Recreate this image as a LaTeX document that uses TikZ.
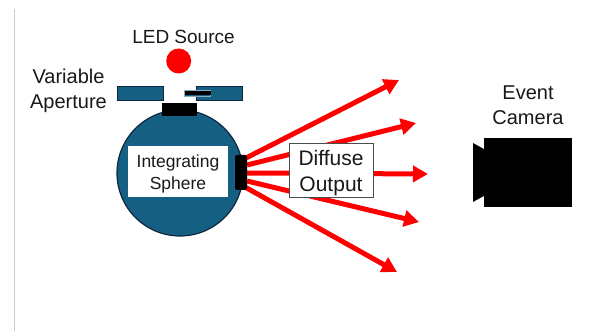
\documentclass[tikz,border=0pt]{standalone}
\usepackage{fontspec}
\setmainfont{Liberation Sans}
\usetikzlibrary{arrows.meta}
\definecolor{sphereblue}{HTML}{156082}
\definecolor{edgeblue}{HTML}{0E2841}
\tikzset{
  label text/.style={font=\fontsize{20}{24.5}\selectfont,align=center,inner sep=0pt,text=black!90},
  blackpart/.style={fill=black,draw=none,inner sep=0pt,rectangle},
  plate/.style={fill=sphereblue,draw=edgeblue,line width=0.8pt,rectangle,inner sep=0pt},
  ray/.style={draw=red,line width=5pt,-{Triangle[length=15pt,width=16pt]}},
  whitebox/.style={fill=white,draw=black!70,line width=0.7pt,rectangle,inner sep=0pt,align=center}
}
\begin{document}
\begin{tikzpicture}[x=1pt,y=-1pt]
\useasboundingbox (0,0) rectangle (590,331);
\fill[white] (0,0) rectangle (590,331);
\coordinate (railtop) at (14.5,9);
\coordinate (railbot) at (14.5,331);
\draw[black!20,line width=1pt] (railtop) -- (railbot);
% sphere
\node[circle,fill=sphereblue,draw=edgeblue,line width=1.2pt,minimum size=126pt,inner sep=0pt] (sphere) at (180,173) {};
% rays
\coordinate (s1) at (246,158);
\coordinate (s2) at (247,165);
\coordinate (s3) at (247,173);
\coordinate (s4) at (247,181);
\coordinate (s5) at (245,187);
\coordinate (e1) at (399,80);
\coordinate (e2) at (416,123);
\coordinate (e3) at (428,174);
\coordinate (e4) at (419,222);
\coordinate (e5) at (397,272);
\draw[ray] (s1) -- (e1);
\draw[ray] (s2) -- (e2);
\draw[ray] (s3) -- (e3);
\draw[ray] (s4) -- (e4);
\draw[ray] (s5) -- (e5);
% parts
\node[blackpart,minimum width=35pt,minimum height=13pt] (topport) at (179.5,109.5) {};
\node[blackpart,minimum width=12pt,minimum height=35pt,rounded corners=2pt] (sideport) at (241,172.5) {};
\node[plate,minimum width=46pt,minimum height=14pt] (plateL) at (140,93) {};
\node[plate,minimum width=46pt,minimum height=14pt] (plateR) at (219,93) {};
\node[plate,draw=sphereblue!50,minimum width=26pt,minimum height=6pt] (slider) at (197,93) {};
\node[blackpart,minimum width=26pt,minimum height=4.5pt] (sliderbar) at (197.5,93) {};
\node[circle,fill=red,draw=none,minimum size=25pt,inner sep=0pt] (led) at (178.7,61) {};
% boxes
\node[whitebox,draw=none,minimum width=100pt,minimum height=51pt] (isbox) at (178,171.5) {};
\node[inner sep=0pt,align=center,font=\fontsize{17.5}{22}\selectfont,text=black!90] (istext) at (178,173.5) {Integrating\\Sphere};
\node[whitebox,minimum width=84pt,minimum height=54pt] (outbox) at (331,170) {};
\node[inner sep=0pt,align=center,font=\fontsize{21}{26}\selectfont,text=black!90] (outtext) at (331,173.5) {Diffuse\\Output};
% camera
\node[blackpart,minimum width=88pt,minimum height=69pt] (cambody) at (528,172.5) {};
\fill[black] (cambody.west |- 0,149) -- (473,143) -- (473,202) -- (cambody.west |- 0,196) -- cycle;
% labels
\node[label text,font=\fontsize{19}{23}\selectfont] (ledlabel) at (183.5,36.5) {LED Source};
\node[label text] (aplabel) at (68.5,91) {Variable\\Aperture};
\node[label text] (camlabel) at (528,105) {Event\\Camera};
\end{tikzpicture}
\end{document}
